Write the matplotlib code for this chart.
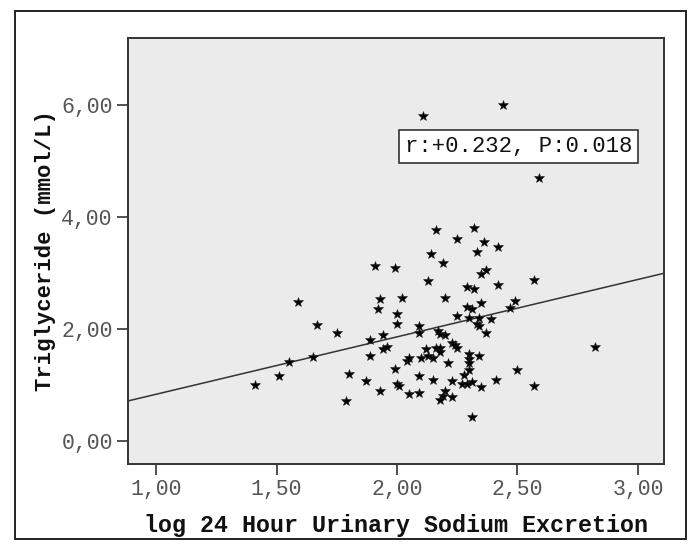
import numpy as np
import matplotlib
matplotlib.use("Agg")
import matplotlib.pyplot as plt
from matplotlib.patches import Rectangle
from matplotlib.ticker import FuncFormatter

# data
sodium_log = [
    1.41, 1.51, 1.55, 1.59, 1.65, 1.67, 1.75, 1.79, 1.80, 1.87,
    1.89, 1.89, 1.92, 1.93, 1.93, 1.94, 1.94, 1.96, 1.99, 1.91,
    1.99, 2.02, 2.00, 2.00, 2.00, 2.01, 2.04, 2.05, 2.05, 2.09,
    2.09, 2.09, 2.09, 2.11, 2.10, 2.12, 2.13, 2.13, 2.15, 2.14,
    2.16, 2.16, 2.17, 2.18, 2.18, 2.18, 2.20, 2.19, 2.20, 2.15,
    2.20, 2.19, 2.18, 2.21, 2.23, 2.24, 2.23, 2.23, 2.25, 2.25,
    2.25, 2.27, 2.29, 2.31, 2.28, 2.30, 2.30, 2.30, 2.30, 2.31,
    2.29, 2.31, 2.29, 2.32, 2.30, 2.34, 2.33, 2.34, 2.34, 2.35,
    2.32, 2.33, 2.36, 2.37, 2.35, 2.35, 2.37, 2.39, 2.41, 2.42,
    2.42, 2.44, 2.47, 2.49, 2.50, 2.57, 2.57, 2.59, 2.82, 2.13,
]
triglyceride = [
    1.01, 1.17, 1.42, 2.49, 1.51, 2.07, 1.93, 0.72, 1.20, 1.07,
    1.81, 1.52, 2.36, 2.54, 0.90, 1.89, 1.65, 1.68, 1.29, 3.13,
    3.09, 2.55, 2.27, 2.10, 1.02, 0.99, 1.44, 1.49, 0.84, 2.06,
    1.93, 1.16, 0.86, 5.81, 1.48, 1.64, 2.86, 1.53, 1.49, 3.34,
    3.77, 1.66, 1.97, 1.66, 1.59, 1.91, 1.89, 3.18, 2.55, 1.09,
    0.90, 0.81, 0.73, 1.40, 1.76, 1.72, 1.07, 0.79, 2.23, 1.66,
    3.61, 1.02, 1.02, 1.05, 1.18, 1.27, 1.55, 1.47, 1.40, 0.44,
    2.40, 2.37, 2.76, 2.71, 2.20, 2.20, 2.09, 2.05, 1.53, 0.97,
    3.80, 3.38, 3.55, 3.06, 2.99, 2.46, 1.93, 2.19, 1.10, 3.46,
    2.79, 6.00, 2.38, 2.50, 1.27, 2.88, 0.99, 4.70, 1.68, 5.46,
]
fit_intercept = -0.186
fit_slope = 1.025
stat_text = "r:+0.232, P:0.018"
x_ticks = [1.0, 1.5, 2.0, 2.5, 3.0]
y_ticks = [0.0, 2.0, 4.0, 6.0]

mono = "Liberation Mono"
plt.rcParams["font.family"] = [mono, "DejaVu Sans Mono"]

fig = plt.figure(figsize=(6.96, 5.51), dpi=100)
ax = fig.add_axes([0.184, 0.158, 0.770, 0.773])
ax.set_facecolor("#EBEBEB")

ax.plot(sodium_log, triglyceride, linestyle="none", marker="*", markersize=7,
        color="black", markeredgecolor="#222222", markeredgewidth=0.4, zorder=3)

x_lim = (0.884, 3.108)
y_lim = (-0.405, 7.20)
xs = np.array(x_lim)
ax.plot(xs, fit_intercept + fit_slope * xs, color="#333333", lw=1.1, zorder=2)

ax.text(2.506, 5.26, stat_text, ha="center", va="center", fontsize=16,
        color="#111111", zorder=5,
        bbox=dict(boxstyle="square,pad=0.26", fc="white", ec="#333333", lw=1.2))

ax.set_xlim(*x_lim)
ax.set_ylim(*y_lim)
ax.set_xticks(x_ticks)
ax.set_yticks(y_ticks)
comma = FuncFormatter(lambda v, p: f"{v:.2f}".replace(".", ","))
ax.xaxis.set_major_formatter(comma)
ax.yaxis.set_major_formatter(comma)
ax.tick_params(length=8, width=1.2, color="#333333", labelcolor="#555555",
               labelsize=15.5, pad=3)
for s in ax.spines.values():
    s.set_color("#333333")
    s.set_linewidth(1.4)

ax.set_xlabel("log 24 Hour Urinary Sodium Excretion", fontsize=16.8,
              fontweight="bold", color="#111111", labelpad=10)
ax.set_ylabel("Triglyceride (mmol/L)", fontsize=16, fontweight="bold",
              color="#111111", labelpad=4)

# outer frame
fig.patches.append(Rectangle((0.021, 0.022), 0.964, 0.958,
                             transform=fig.transFigure, fill=False,
                             ec="#222222", lw=1.4))

fig.savefig("out.png", dpi=100)
